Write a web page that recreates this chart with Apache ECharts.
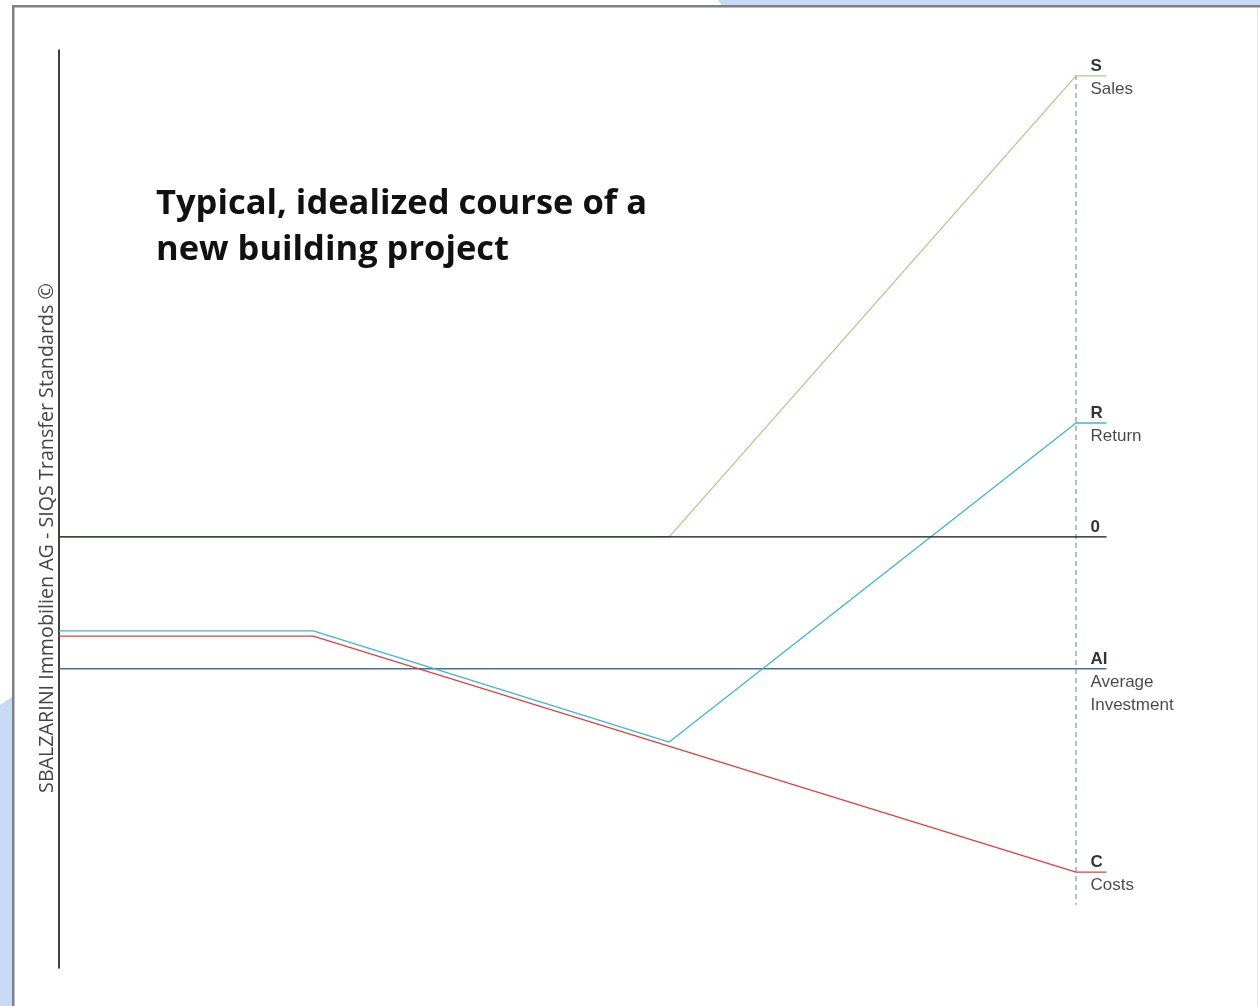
<!DOCTYPE html>
<html>
<head>
<meta charset="utf-8">
<script src="https://cdn.jsdelivr.net/npm/echarts@6/dist/echarts.min.js"></script>
<style>
html,body{margin:0;padding:0;background:#fff;}
#chart{width:1260px;height:1006px;}
</style>
</head>
<body>
<div id="chart"></div>
<script>
// ---- data (time in % of project duration, values in relative units; 0 = break-even line) ----
const salesX = [0, 60, 100, 103];
const salesY = [0, 0, 100, 100];
const returnX = [0, 25, 60, 100, 103];
const returnY = [-20.4, -20.4, -44.5, 24.7, 24.7];
const costsX = [0, 25, 100, 103];
const costsY = [-21.5, -21.5, -72.7, -72.7];
const avgInvX = [0, 103];
const avgInvY = [-28.6, -28.6];
const zeroX = [0, 103];
const zeroY = [0, 0];
const endMarkX = [100, 100];
const endMarkY = [100.2, -79.8];
const labelShort = ['S', 'R', '0', 'AI', 'C'];
const labelLong = ['Sales', 'Return', '', 'Average\nInvestment', 'Costs'];
const labelY = [100, 24.7, 0, -28.6, -72.7];
const labelX = 100;
const titleText = 'Typical, idealized course of a\nnew building project';
const watermark = 'SBALZARINI Immobilien AG - SIQS Transfer Standards \u00A9';

const zip = (xs, ys) => xs.map((x, i) => [x, ys[i]]);

const chart = echarts.init(document.getElementById('chart'));

function lineSeries(name, xs, ys, color, z) {
  return {
    name, type: 'line', data: zip(xs, ys), showSymbol: false, symbol: 'none',
    lineStyle: { color, width: 1.3 }, z: z || 2, silent: true, animation: false
  };
}

const labelData = labelY.map((y, i) => {
  const lines = labelLong[i] ? labelLong[i].split('\n') : [];
  let fmt = '{b|' + labelShort[i] + '}';
  lines.forEach(l => { fmt += '\n{n|' + l + '}'; });
  const n = 1 + lines.length;
  // first (bold) line sits just above the line end, the description just below
  const off = (n - 2) * 11.5 + 2;
  return {
    value: [labelX, y],
    label: { formatter: fmt, offset: [0, off] }
  };
});

const font = 'Arial';

chart.setOption({
  animation: false,
  backgroundColor: '#ffffff',
  grid: { left: 59, top: 50, width: 1047.5, bottom: 38, containLabel: false },
  xAxis: {
    type: 'value', min: 0, max: 103, show: false
  },
  yAxis: {
    type: 'value', min: -93.5, max: 105.6,
    axisLine: { show: true, onZero: false, lineStyle: { color: '#000', width: 1.5 } },
    axisTick: { show: false }, axisLabel: { show: false }, splitLine: { show: false }
  },
  graphic: [
    // backdrop slide corners
    { type: 'polygon', shape: { points: [[718, 0], [1260, 0], [1260, 6], [722, 6]] }, style: { fill: '#c6d9f5' }, silent: true },
    { type: 'polygon', shape: { points: [[0, 705], [13, 696], [13, 1006], [0, 1006]] }, style: { fill: '#c6d9f5' }, silent: true },
    { type: 'rect', shape: { x: 12, y: 5, width: 1248, height: 2.5 }, style: { fill: '#808080' }, silent: true },
    { type: 'rect', shape: { x: 12, y: 5, width: 2.5, height: 1001 }, style: { fill: '#808080' }, silent: true },
    { type: 'rect', shape: { x: 1257, y: 8, width: 1, height: 998 }, style: { fill: '#e8e8e8' }, silent: true },
    {
      type: 'text', left: 156, top: 181, silent: true,
      style: { text: titleText, font: 'bold 34.5px "Open Sans", sans-serif', fill: '#111', lineHeight: 46 }
    },
    {
      type: 'text', x: 47, y: 538, rotation: Math.PI / 2, silent: true,
      style: { text: watermark, font: '19.7px "Open Sans", sans-serif', fill: '#444', textAlign: 'center', textVerticalAlign: 'middle' }
    }
  ],
  series: [
    lineSeries('Average Investment', avgInvX, avgInvY, '#4f6d8f', 2),
    lineSeries('Costs', costsX, costsY, '#e2403c', 3),
    lineSeries('Return', returnX, returnY, '#3db6d8', 4),
    lineSeries('Sales', salesX, salesY, '#a6d185', 3),
    lineSeries('Zero', zeroX, zeroY, '#111111', 5),
    {
      name: 'End', type: 'line', data: zip(endMarkX, endMarkY), showSymbol: false, symbol: 'none',
      lineStyle: { color: '#7f93b3', width: 1.2, type: [5, 4] }, z: 1, silent: true
    },
    {
      name: 'Labels', type: 'scatter', data: labelData, symbolSize: 1,
      itemStyle: { color: 'rgba(0,0,0,0)' }, silent: true, z: 6,
      label: {
        show: true, position: 'right', distance: 14, fontFamily: font, fontSize: 17, color: '#111',
        rich: {
          b: { fontFamily: font, fontWeight: 'bold', fontSize: 17, lineHeight: 23, color: '#000' },
          n: { fontFamily: font, fontWeight: 'normal', fontSize: 17, lineHeight: 23, color: '#1a1a1a' }
        }
      }
    }
  ]
});
</script>
</body>
</html>
